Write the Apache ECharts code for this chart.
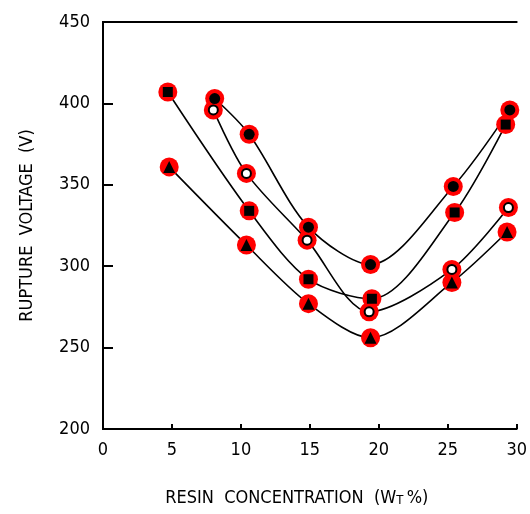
<!DOCTYPE html>
<html>
<head>
<meta charset="utf-8">
<script src="https://cdn.jsdelivr.net/npm/echarts@6/dist/echarts.min.js"></script>
<style>
html,body{margin:0;padding:0;background:#fff;}
#chart{width:530px;height:514px;}
</style>
</head>
<body>
<div id="chart"></div>
<script>
// Data
const xTickLabels = ['0', '5', '10', '15', '20', '25', '30'];
const yTickLabels = ['200', '250', '300', '350', '400', '450'];

const xFilledCircle = [8.1, 10.6, 14.9, 19.4, 25.4, 29.5];
const yFilledCircle = [403, 381, 324, 301, 349, 396];

const xOpenCircle = [8.0, 10.4, 14.8, 19.3, 25.3, 29.4];
const yOpenCircle = [396, 357, 316, 272, 298, 336];

const xSquare = [4.7, 10.6, 14.9, 19.5, 25.5, 29.2];
const ySquare = [407, 334, 292, 280, 333, 387];

const xTriangle = [4.8, 10.4, 14.9, 19.4, 25.3, 29.3];
const yTriangle = [361, 313, 277, 256, 290, 321];

const FONT = '"Liberation Sans Narrow", "DejaVu Sans Condensed", "Roboto Condensed", sans-serif';

function pairs(xs, ys) { return xs.map((x, i) => [x, ys[i]]); }

const groups = [
  { data: pairs(xFilledCircle, yFilledCircle), symbol: 'circle', size: 11, fill: '#000', border: 0 },
  { data: pairs(xOpenCircle, yOpenCircle), symbol: 'circle', size: 9, fill: '#fff', border: 2 },
  { data: pairs(xSquare, ySquare), symbol: 'rect', size: 10, fill: '#000', border: 0 },
  { data: pairs(xTriangle, yTriangle), symbol: 'triangle', size: 12, fill: '#000', border: 0 }
];

const series = [];
groups.forEach(g => series.push({
  type: 'line', data: g.data, smooth: 0.3, showSymbol: false, z: 1,
  lineStyle: { color: '#000', width: 1.6 }
}));
groups.forEach(g => series.push({
  type: 'scatter', data: g.data, symbol: 'circle', symbolSize: 19, z: 5,
  itemStyle: { color: 'red', opacity: 1 }
}));
groups.forEach(g => series.push({
  type: 'scatter', data: g.data, symbol: g.symbol, symbolSize: g.size, z: 6,
  itemStyle: { color: g.fill, borderColor: '#000', borderWidth: g.border, opacity: 1 }
}));

const axisLine = { show: true, lineStyle: { color: '#000', width: 2 } };

const option = {
  animation: false,
  grid: { left: 103, right: 9, top: 22, bottom: 85 },
  xAxis: [{
    type: 'value', min: 0, max: 30, interval: 5,
    axisLine: axisLine,
    axisTick: { show: true, inside: true, length: 5, lineStyle: { color: '#000', width: 2 } },
    axisLabel: { color: '#000', fontFamily: FONT, fontSize: 18, margin: 12,
      formatter: (v) => xTickLabels[Math.round(v / 5)] },
    splitLine: { show: false },
    name: '{a|RESIN  CONCENTRATION  (W}{b|T} {a|%)}',
    nameLocation: 'middle', nameGap: 60,
    nameTextStyle: {
      padding: [0, 26, 0, 0],
      rich: {
        a: { color: '#000', fontFamily: FONT, fontSize: 18 },
        b: { color: '#000', fontFamily: FONT, fontSize: 13, verticalAlign: 'bottom', padding: [2, 0, 0, 0] }
      }
    }
  }, {
    type: 'value', position: 'top', min: 0, max: 30, interval: 5,
    axisLine: axisLine, axisTick: { show: false }, axisLabel: { show: false }, splitLine: { show: false }
  }],
  yAxis: [{
    type: 'value', min: 200, max: 450, interval: 50,
    axisLine: axisLine,
    axisTick: { show: true, inside: true, length: 10, lineStyle: { color: '#000', width: 2 } },
    axisLabel: { color: '#000', fontFamily: FONT, fontSize: 18, margin: 13,
      formatter: (v) => yTickLabels[Math.round((v - 200) / 50)] },
    splitLine: { show: false },
    name: 'RUPTURE  VOLTAGE  (V)',
    nameLocation: 'middle', nameGap: 67, nameRotate: 90,
    nameTextStyle: { color: '#000', fontFamily: FONT, fontSize: 18 }
  }, {
    type: 'value', position: 'right', min: 200, max: 450, interval: 50,
    axisLine: axisLine, axisTick: { show: false }, axisLabel: { show: false }, splitLine: { show: false }
  }],
  series: series
};

const chart = echarts.init(document.getElementById('chart'));
chart.setOption(option);
</script>
</body>
</html>
